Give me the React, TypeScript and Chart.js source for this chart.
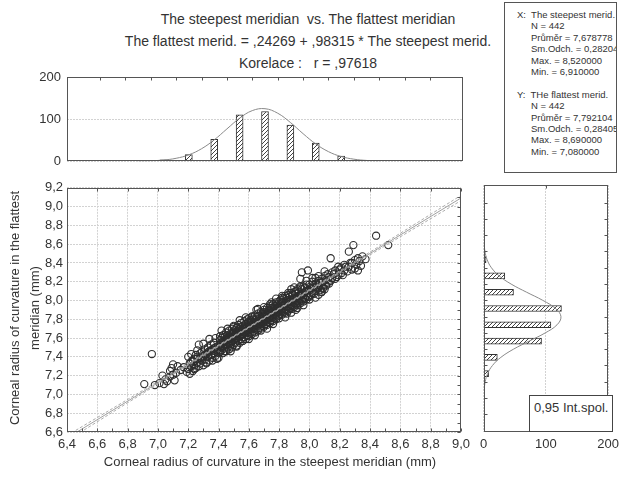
import React, { useEffect, useRef } from "react";
import { Chart, registerables } from "chart.js";
Chart.register(...registerables);

const FONT = "'Liberation Sans', Arial, sans-serif";

// ---------- data ----------
const xTicks = [6.4, 6.6, 6.8, 7.0, 7.2, 7.4, 7.6, 7.8, 8.0, 8.2, 8.4, 8.6, 8.8, 9.0];
const yTicks = [6.6, 6.8, 7.0, 7.2, 7.4, 7.6, 7.8, 8.0, 8.2, 8.4, 8.6, 8.8, 9.0, 9.2];
const countTicks = [0, 100, 200];

// top histogram: The steepest meridian
const topBinCenters = [6.9, 7.1, 7.3, 7.5, 7.7, 7.9, 8.1, 8.3, 8.5];
const topCounts = [3, 16, 52, 110, 118, 86, 43, 12, 2];
const topCurveX = [6.7, 6.8, 6.9, 7.0, 7.1, 7.2, 7.3, 7.4, 7.5, 7.6, 7.7, 7.8, 7.9, 8.0, 8.1, 8.2, 8.3, 8.4, 8.5, 8.6];
const topCurveY = [0.3, 1.0, 2.8, 6.9, 15.2, 29.6, 50.7, 76.7, 102.2, 120.2, 124.7, 114.0, 92.0, 65.4, 41.0, 22.7, 11.1, 4.8, 1.8, 0.6];

// right histogram: The flattest meridian
const rightBinCenters = [7.1, 7.3, 7.5, 7.7, 7.9, 8.1, 8.3, 8.5];
const rightCounts = [8, 22, 93, 108, 125, 48, 34, 4];
const rightCurveY = [6.9, 7.0, 7.1, 7.2, 7.3, 7.4, 7.5, 7.6, 7.7, 7.8, 7.9, 8.0, 8.1, 8.2, 8.3, 8.4, 8.5, 8.6, 8.7];
const rightCurveX = [0.9, 2.5, 6.4, 14.2, 27.7, 47.9, 73.2, 98.9, 117.9, 124.2, 115.5, 95.0, 69.0, 44.2, 25.1, 12.6, 5.6, 2.2, 0.75];

// regression line and 0.95 confidence band
const fitX = [6.4, 9.0];
const fitY = [6.535, 9.091];
const bandX = [6.4, 7.0, 7.68, 8.4, 9.0];
const bandUpper = [6.562, 7.139, 7.799, 8.516, 9.119];
const bandLower = [6.508, 7.111, 7.787, 8.486, 9.063];

// scatter points [steepest, flattest]
const points: [number, number][] = [
  [6.91,7.11],[6.96,7.43],[6.98,7.10],
  [7.01,7.12],[7.03,7.20],[7.04,7.11],[7.05,7.16],[7.06,7.14],[7.08,7.25],[7.08,7.19],[7.09,7.28],[7.10,7.32],[7.10,7.21],[7.11,7.15],[7.12,7.23],[7.13,7.30],[7.15,7.26],[7.17,7.29],[7.19,7.24],
  [7.20,7.40],[7.20,7.27],[7.21,7.33],[7.21,7.22],[7.22,7.43],[7.22,7.30],[7.23,7.36],[7.23,7.25],[7.24,7.31],[7.24,7.38],[7.25,7.28],[7.25,7.42],[7.26,7.34],[7.26,7.47],[7.27,7.53],[7.27,7.30],[7.28,7.39],[7.28,7.33],[7.29,7.45],[7.29,7.36],[7.30,7.41],[7.30,7.31],[7.31,7.48],[7.31,7.37],[7.32,7.43],[7.32,7.34],[7.33,7.50],[7.33,7.40],[7.34,7.46],[7.34,7.36],[7.35,7.53],[7.35,7.42],[7.36,7.39],[7.36,7.48],[7.37,7.44],[7.37,7.55],[7.38,7.41],[7.38,7.50],[7.39,7.47],[7.39,7.38],[7.40,7.52],[7.40,7.44],
  [7.22,7.35],[7.24,7.27],[7.26,7.38],[7.28,7.44],[7.31,7.42],[7.33,7.45],[7.35,7.47],[7.37,7.49],
  [7.41,7.45],[7.41,7.53],[7.41,7.58],[7.41,7.62],
  [7.42,7.47],[7.42,7.54],[7.42,7.60],[7.42,7.50],
  [7.43,7.44],[7.43,7.55],[7.43,7.63],[7.43,7.51],[7.43,7.57],
  [7.44,7.49],[7.44,7.56],[7.44,7.61],[7.44,7.53],
  [7.45,7.46],[7.45,7.57],[7.45,7.66],[7.45,7.52],[7.45,7.60],
  [7.46,7.50],[7.46,7.58],[7.46,7.63],[7.46,7.55],
  [7.47,7.48],[7.47,7.59],[7.47,7.68],[7.47,7.54],[7.47,7.62],
  [7.48,7.52],[7.48,7.60],[7.48,7.65],[7.48,7.57],
  [7.49,7.50],[7.49,7.61],[7.49,7.70],[7.49,7.56],[7.49,7.64],
  [7.50,7.53],[7.50,7.62],[7.50,7.67],[7.50,7.58],[7.50,7.72],
  [7.51,7.55],[7.51,7.63],[7.51,7.69],[7.51,7.59],
  [7.52,7.51],[7.52,7.64],[7.52,7.71],[7.52,7.60],[7.52,7.67],
  [7.53,7.57],[7.53,7.65],[7.53,7.74],[7.53,7.62],
  [7.54,7.55],[7.54,7.66],[7.54,7.70],[7.54,7.61],[7.54,7.68],
  [7.55,7.59],[7.55,7.67],[7.55,7.76],[7.55,7.63],
  [7.56,7.57],[7.56,7.68],[7.56,7.73],[7.56,7.64],[7.56,7.70],
  [7.57,7.61],[7.57,7.69],[7.57,7.78],[7.57,7.66],
  [7.58,7.59],[7.58,7.70],[7.58,7.75],[7.58,7.65],[7.58,7.72],
  [7.59,7.63],[7.59,7.71],[7.59,7.80],[7.59,7.68],
  [7.60,7.62],[7.60,7.72],[7.60,7.77],[7.60,7.68],[7.60,7.81],
  [7.61,7.65],[7.61,7.73],[7.61,7.79],[7.61,7.70],
  [7.62,7.64],[7.62,7.74],[7.62,7.82],[7.62,7.69],[7.62,7.77],
  [7.63,7.67],[7.63,7.75],[7.63,7.80],[7.63,7.72],
  [7.64,7.66],[7.64,7.76],[7.64,7.84],[7.64,7.71],[7.64,7.79],
  [7.65,7.69],[7.65,7.77],[7.65,7.82],[7.65,7.74],[7.65,7.90],
  [7.66,7.68],[7.66,7.78],[7.66,7.86],[7.66,7.73],
  [7.67,7.71],[7.67,7.79],[7.67,7.84],[7.67,7.76],[7.67,7.81],
  [7.68,7.70],[7.68,7.80],[7.68,7.88],[7.68,7.75],
  [7.69,7.73],[7.69,7.81],[7.69,7.86],[7.69,7.78],[7.69,7.83],
  [7.70,7.72],[7.70,7.82],[7.70,7.90],[7.70,7.77],[7.70,7.85],
  [7.71,7.75],[7.71,7.83],[7.71,7.88],[7.71,7.80],
  [7.72,7.74],[7.72,7.84],[7.72,7.92],[7.72,7.79],[7.72,7.87],
  [7.73,7.77],[7.73,7.85],[7.73,7.90],[7.73,7.82],
  [7.74,7.76],[7.74,7.86],[7.74,7.94],[7.74,7.81],[7.74,7.89],
  [7.75,7.79],[7.75,7.87],[7.75,7.92],[7.75,7.84],[7.75,7.98],
  [7.76,7.78],[7.76,7.88],[7.76,7.96],[7.76,7.83],
  [7.77,7.81],[7.77,7.89],[7.77,7.94],[7.77,7.86],[7.77,7.91],
  [7.78,7.80],[7.78,7.90],[7.78,7.98],[7.78,7.85],
  [7.79,7.83],[7.79,7.91],[7.79,7.96],[7.79,7.88],[7.79,7.93],
  [7.80,7.84],[7.80,7.92],[7.80,7.99],[7.80,7.88],
  [7.81,7.86],[7.81,7.93],[7.81,8.01],[7.81,7.90],
  [7.82,7.85],[7.82,7.94],[7.82,7.98],[7.82,7.89],[7.82,8.03],
  [7.83,7.88],[7.83,7.95],[7.83,8.02],[7.83,7.92],
  [7.84,7.87],[7.84,7.96],[7.84,8.05],[7.84,7.91],
  [7.85,7.90],[7.85,7.97],[7.85,8.03],[7.85,7.94],[7.85,7.86],
  [7.86,7.89],[7.86,7.98],[7.86,8.06],[7.86,7.93],
  [7.87,7.92],[7.87,7.99],[7.87,8.04],[7.87,7.96],
  [7.88,7.91],[7.88,8.00],[7.88,8.08],[7.88,7.95],[7.88,8.12],
  [7.89,7.94],[7.89,8.01],[7.89,8.06],[7.89,7.98],
  [7.90,7.93],[7.90,8.02],[7.90,8.09],[7.90,7.97],
  [7.91,7.96],[7.91,8.03],[7.91,8.10],[7.91,7.99],[7.91,7.90],
  [7.92,7.95],[7.92,8.04],[7.92,8.12],[7.92,8.00],
  [7.93,7.98],[7.93,8.05],[7.93,8.09],[7.93,8.02],
  [7.94,7.97],[7.94,8.06],[7.94,8.14],[7.94,8.01],[7.94,8.23],
  [7.95,8.00],[7.95,8.07],[7.95,8.12],[7.95,8.30],
  [7.96,7.99],[7.96,8.08],[7.96,8.15],[7.96,8.03],
  [7.97,8.02],[7.97,8.09],[7.97,8.13],
  [7.98,8.01],[7.98,8.10],[7.98,8.17],[7.98,8.05],
  [7.99,8.04],[7.99,8.11],[7.99,8.32],
  [8.00,8.04],[8.00,8.11],[8.00,8.17],[8.01,8.06],[8.01,8.13],
  [8.02,8.08],[8.02,8.15],[8.02,8.20],[8.03,8.07],[8.03,8.14],
  [8.04,8.10],[8.04,8.18],[8.04,8.24],[8.05,8.12],[8.05,8.16],
  [8.06,8.06],[8.06,8.14],[8.06,8.21],[8.07,8.11],[8.07,8.19],
  [8.08,8.15],[8.08,8.23],[8.08,8.09],[8.09,8.13],[8.09,8.20],
  [8.10,8.17],[8.10,8.26],[8.10,8.12],[8.11,8.16],[8.11,8.22],
  [8.12,8.19],[8.12,8.28],[8.13,8.18],[8.13,8.25],[8.14,8.45],
  [8.14,8.21],[8.15,8.24],[8.15,8.30],[8.17,8.23],[8.17,8.32],
  [8.19,8.36],[8.19,8.27],
  [8.21,8.29],[8.21,8.35],[8.23,8.32],[8.23,8.38],[8.26,8.52],[8.26,8.36],[8.28,8.40],[8.29,8.59],[8.30,8.43],[8.30,8.34],[8.32,8.32],[8.32,8.45],[8.35,8.47],
  [8.16,8.28],[8.18,8.25],[8.20,8.33],[8.22,8.27],[8.24,8.36],[8.25,8.31],[8.27,8.40],[8.28,8.33],[8.31,8.38],[8.33,8.42],[8.34,8.37],[8.37,8.44],
  [8.44,8.69],[8.52,8.59],
  [7.30,7.54],[7.32,7.33],[7.34,7.59],[7.36,7.36],[7.38,7.60],[7.40,7.39],[7.42,7.68],[7.44,7.46],[7.46,7.70],[7.48,7.46],
  [7.50,7.73],[7.52,7.52],[7.54,7.79],[7.56,7.57],[7.58,7.82],[7.60,7.59],[7.62,7.83],[7.64,7.63],[7.66,7.91],[7.68,7.68],
  [7.70,7.93],[7.72,7.70],[7.74,7.96],[7.76,7.75],[7.78,8.02],[7.80,7.81],[7.82,8.05],[7.84,7.82],[7.86,8.08],[7.88,7.87],
  [7.90,8.14],[7.92,7.92],[7.94,8.15],[7.96,7.95],[7.98,8.21],[8.00,8.01],[8.02,8.24],[8.04,8.03],[8.06,8.26],[8.08,8.09],[8.10,8.31],
  [7.45,7.59],[7.47,7.56],[7.49,7.64],[7.51,7.60],[7.53,7.68],[7.55,7.64],[7.57,7.72],[7.59,7.68],[7.61,7.76],[7.63,7.72],
  [7.65,7.80],[7.67,7.76],[7.69,7.84],[7.71,7.80],[7.73,7.88],[7.75,7.84],[7.77,7.92],[7.79,7.88],[7.81,7.96],[7.83,7.92],[7.85,8.00],
];

// ---------- helpers ----------
const fmt = (v: number) => v.toFixed(1).replace(".", ",");

function midpoints(arr: number[]) {
  const out: number[] = [];
  for (let i = 0; i < arr.length - 1; i++) out.push((arr[i] + arr[i + 1]) / 2);
  return out;
}

type Side = "top" | "bottom" | "left" | "right";
function framePlugin(spec: { side: Side; values: number[]; len: number }[]) {
  return {
    id: "frameTicks",
    afterDraw(chart: any) {
      const { ctx, chartArea: a, scales } = chart;
      const L = Math.round(a.left) + 0.5;
      const R = Math.round(a.right) - 0.5;
      const T = Math.round(a.top) + 0.5;
      const B = Math.round(a.bottom) - 0.5;
      ctx.save();
      ctx.strokeStyle = "#555";
      ctx.lineWidth = 1;
      ctx.strokeRect(L, T, R - L, B - T);
      ctx.beginPath();
      for (const s of spec) {
        for (const v of s.values) {
          if (s.side === "top" || s.side === "bottom") {
            const p = Math.round(scales.x.getPixelForValue(v)) + 0.5;
            const y0 = s.side === "top" ? T : B;
            const d = s.side === "top" ? 1 : -1;
            ctx.moveTo(p, y0);
            ctx.lineTo(p, y0 + d * s.len);
          } else {
            const p = Math.round(scales.y.getPixelForValue(v)) + 0.5;
            const x0 = s.side === "left" ? L : R;
            const d = s.side === "left" ? 1 : -1;
            ctx.moveTo(x0, p);
            ctx.lineTo(x0 + d * s.len, p);
          }
        }
      }
      ctx.stroke();
      ctx.restore();
    },
  };
}

function hatchPattern(ctx: CanvasRenderingContext2D) {
  const c = document.createElement("canvas");
  c.width = 4;
  c.height = 4;
  const g = c.getContext("2d")!;
  g.fillStyle = "#ffffff";
  g.fillRect(0, 0, 4, 4);
  g.strokeStyle = "#444";
  g.lineWidth = 1;
  g.beginPath();
  g.moveTo(-1, 5);
  g.lineTo(5, -1);
  g.moveTo(-1, 1);
  g.lineTo(1, -1);
  g.moveTo(3, 5);
  g.lineTo(5, 3);
  g.stroke();
  return ctx.createPattern(c, "repeat") as CanvasPattern;
}

const gridColor = "#d2d2d2";

export default function App() {
  const mainRef = useRef<HTMLCanvasElement>(null);
  const topRef = useRef<HTMLCanvasElement>(null);
  const rightRef = useRef<HTMLCanvasElement>(null);

  useEffect(() => {
    Chart.defaults.font.family = FONT;
    Chart.defaults.color = "#333";
    const charts: Chart[] = [];
    const xMinor = [...xTicks, ...midpoints(xTicks)];
    const yMinor = [...yTicks, ...midpoints(yTicks)];

    // ---- main scatter ----
    charts.push(
      new Chart(mainRef.current!, {
        type: "scatter",
        data: {
          datasets: [
            {
              type: "line",
              data: fitX.map((x, i) => ({ x, y: fitY[i] })),
              borderColor: "#a0a0a0",
              borderWidth: 1,
              pointRadius: 0,
            } as any,
            {
              type: "line",
              data: bandX.map((x, i) => ({ x, y: bandUpper[i] })),
              borderColor: "#acacac",
              borderWidth: 1,
              borderDash: [3, 2],
              pointRadius: 0,
              tension: 0.4,
            } as any,
            {
              type: "line",
              data: bandX.map((x, i) => ({ x, y: bandLower[i] })),
              borderColor: "#acacac",
              borderWidth: 1,
              borderDash: [3, 2],
              pointRadius: 0,
              tension: 0.4,
            } as any,
            {
              data: points.map(([x, y]) => ({ x, y })),
              pointRadius: 3.6,
              pointBorderWidth: 1.1,
              pointBorderColor: "#2e2e2e",
              pointBackgroundColor: "rgba(255,255,255,0)",
              showLine: false,
            },
          ],
        },
        options: {
          animation: false,
          responsive: false,
          maintainAspectRatio: false,
          layout: { padding: { top: 9, right: 12, left: 0, bottom: 0 } },
          plugins: { legend: { display: false }, tooltip: { enabled: false } },
          scales: {
            x: {
              type: "linear",
              min: 6.4,
              max: 9.0,
              afterBuildTicks: (s: any) => {
                s.ticks = xTicks.map((v) => ({ value: v }));
              },
              afterFit: (s: any) => {
                s.height = 30;
              },
              ticks: { callback: (v: any) => fmt(Number(v)), font: { size: 13 }, padding: 5, maxRotation: 0, autoSkip: false },
              grid: { color: gridColor, drawTicks: false },
              border: { display: false, dash: [2, 1] },
            },
            y: {
              type: "linear",
              min: 6.6,
              max: 9.2,
              afterBuildTicks: (s: any) => {
                s.ticks = yTicks.map((v) => ({ value: v }));
              },
              afterFit: (s: any) => {
                s.width = 67;
              },
              ticks: { callback: (v: any) => fmt(Number(v)), font: { size: 13 }, padding: 4, autoSkip: false },
              grid: { color: gridColor, drawTicks: false },
              border: { display: false, dash: [2, 1] },
            },
          },
        },
        plugins: [
          framePlugin([
            { side: "bottom", values: xMinor, len: 3 },
            { side: "top", values: xTicks, len: 3 },
            { side: "right", values: yMinor, len: 3 },
          ]),
        ],
      } as any)
    );

    // ---- top histogram ----
    const topCtx = topRef.current!.getContext("2d")!;
    charts.push(
      new Chart(topRef.current!, {
        type: "bar",
        data: {
          datasets: [
            {
              type: "line",
              data: topCurveX.map((x, i) => ({ x, y: topCurveY[i] })),
              borderColor: "#8a8a8a",
              borderWidth: 1,
              pointRadius: 0,
              tension: 0.4,
            } as any,
            {
              type: "bar",
              data: topBinCenters.map((x, i) => ({ x, y: topCounts[i] })),
              backgroundColor: hatchPattern(topCtx),
              borderColor: "#333",
              borderWidth: 1,
              barThickness: 7,
            },
          ],
        },
        options: {
          animation: false,
          responsive: false,
          maintainAspectRatio: false,
          layout: { padding: { top: 15, right: 12, left: 0, bottom: 8 } },
          plugins: { legend: { display: false }, tooltip: { enabled: false } },
          scales: {
            x: { type: "linear", min: 6.4, max: 9.0, display: false },
            y: {
              min: 0,
              max: 200,
              afterBuildTicks: (s: any) => {
                s.ticks = countTicks.map((v) => ({ value: v }));
              },
              afterFit: (s: any) => {
                s.width = 67;
              },
              ticks: { font: { size: 13 }, padding: 6 },
              grid: { color: gridColor, drawTicks: false },
              border: { display: false, dash: [2, 1] },
            },
          },
        },
        plugins: [framePlugin([{ side: "top", values: xTicks, len: 3 }])],
      } as any)
    );

    // ---- right histogram ----
    const rightCtx = rightRef.current!.getContext("2d")!;
    charts.push(
      new Chart(rightRef.current!, {
        type: "bar",
        data: {
          datasets: [
            {
              type: "line",
              data: rightCurveY.map((y, i) => ({ x: rightCurveX[i], y })),
              borderColor: "#8a8a8a",
              borderWidth: 1,
              pointRadius: 0,
              tension: 0.4,
            } as any,
            {
              type: "bar",
              data: rightBinCenters.map((y, i) => ({ x: rightCounts[i], y })),
              backgroundColor: hatchPattern(rightCtx),
              borderColor: "#333",
              borderWidth: 1,
              barThickness: 6,
            },
          ],
        },
        options: {
          indexAxis: "y",
          animation: false,
          responsive: false,
          maintainAspectRatio: false,
          layout: { padding: { top: 9, right: 11, left: 7, bottom: 0 } },
          plugins: { legend: { display: false }, tooltip: { enabled: false } },
          scales: {
            y: { type: "linear", min: 6.6, max: 9.2, display: false },
            x: {
              type: "linear",
              min: 0,
              max: 200,
              afterBuildTicks: (s: any) => {
                s.ticks = countTicks.map((v) => ({ value: v }));
              },
              afterFit: (s: any) => {
                s.height = 30;
              },
              ticks: { font: { size: 13 }, padding: 5, maxRotation: 0 },
              grid: { color: gridColor, drawTicks: false },
              border: { display: false, dash: [2, 1] },
            },
          },
        },
        plugins: [
          framePlugin([
            { side: "left", values: yTicks, len: 3 },
            { side: "right", values: yTicks, len: 3 },
            { side: "top", values: [100], len: 3 },
          ]),
        ],
      } as any)
    );

    return () => charts.forEach((c) => c.destroy());
  }, []);

  const statLine: React.CSSProperties = { whiteSpace: "nowrap", paddingLeft: 14 };
  return (
    <div
      style={{
        position: "absolute",
        left: 0,
        top: 0,
        width: 624,
        height: 477,
        background: "#fff",
        overflow: "hidden",
        fontFamily: FONT,
        color: "#333",
      }}
    >
      <div style={{ position: "absolute", left: 0, top: 8, width: 616, textAlign: "center", fontSize: 14, lineHeight: "22px" }}>
        <div>The steepest meridian&nbsp; vs. The flattest meridian</div>
        <div>The flattest merid. = ,24269 + ,98315 * The steepest merid.</div>
        <div>Korelace :&nbsp;&nbsp; r = ,97618</div>
      </div>

      <canvas ref={topRef} width={475} height={113} style={{ position: "absolute", left: 0, top: 62 }} />
      <canvas ref={mainRef} width={475} height={286} style={{ position: "absolute", left: 0, top: 176 }} />
      <canvas ref={rightRef} width={149} height={286} style={{ position: "absolute", left: 475, top: 176 }} />

      <div
        style={{
          position: "absolute",
          left: -105,
          top: 288,
          width: 260,
          height: 40,
          transform: "rotate(-90deg)",
          textAlign: "center",
          fontSize: 13,
          lineHeight: "20px",
          whiteSpace: "nowrap",
        }}
      >
        <div>Corneal radius of curvature in the flattest</div>
        <div>meridian (mm)</div>
      </div>

      <div style={{ position: "absolute", left: 0, top: 454, width: 540, textAlign: "center", fontSize: 13, lineHeight: "16px" }}>
        Corneal radius of curvature in the steepest meridian (mm)
      </div>

      <div
        style={{
          position: "absolute",
          left: 504,
          top: 2,
          width: 113,
          height: 171,
          border: "1px solid #555",
          background: "#fff",
          overflow: "hidden",
          boxSizing: "border-box",
          fontSize: 9.5,
          lineHeight: "11.4px",
          paddingTop: 6,
          paddingLeft: 12,
        }}
      >
        <div style={{ whiteSpace: "nowrap" }}>X:&nbsp; The steepest merid.</div>
        <div style={statLine}>N = 442</div>
        <div style={statLine}>Průměr = 7,678778</div>
        <div style={statLine}>Sm.Odch. = 0,282049</div>
        <div style={statLine}>Max. = 8,520000</div>
        <div style={statLine}>Min. = 6,910000</div>
        <div>&nbsp;</div>
        <div style={{ whiteSpace: "nowrap" }}>Y:&nbsp; THe flattest merid.</div>
        <div style={statLine}>N = 442</div>
        <div style={statLine}>Průměr = 7,792104</div>
        <div style={statLine}>Sm.Odch. = 0,284059</div>
        <div style={statLine}>Max. = 8,690000</div>
        <div style={statLine}>Min. = 7,080000</div>
      </div>

      <div
        style={{
          position: "absolute",
          left: 529,
          top: 395,
          width: 84,
          height: 37,
          boxSizing: "border-box",
          border: "1px solid #444",
          background: "#fff",
          fontSize: 13,
          lineHeight: "16px",
          paddingTop: 4,
          paddingLeft: 4,
          whiteSpace: "nowrap",
        }}
      >
        0,95 Int.spol.
      </div>
    </div>
  );
}
